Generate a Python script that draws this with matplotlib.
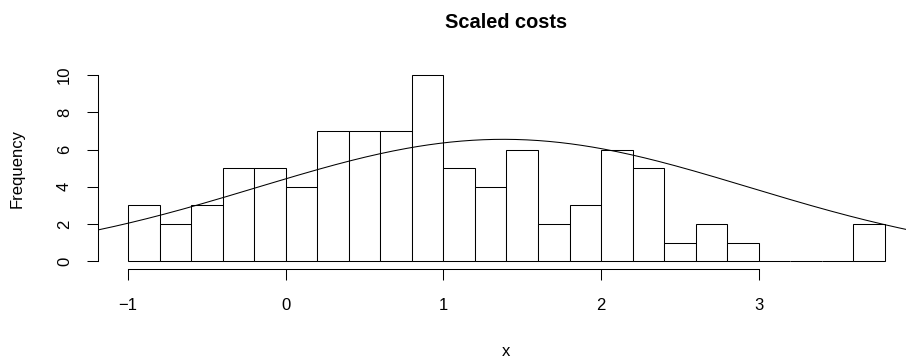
import numpy as np
import matplotlib.pyplot as plt

plt.rcParams['font.family'] = ['Liberation Sans', 'DejaVu Sans']

# histogram bins (width 0.2) and counts
bin_edges = np.round(np.arange(-1.0, 3.81, 0.2), 2)
counts = [3, 2, 3, 5, 5, 4, 7, 7, 7, 10, 5, 4, 6, 2, 3, 6, 5, 1, 2, 1, 0, 0, 0, 2]

# overlaid normal curve
curve_mean = 1.38
curve_sd = 1.56
curve_peak = 6.55

x_ticks = [-1, 0, 1, 2, 3]
x_labels = ['\u22121', '0', '1', '2', '3']
y_ticks = [0, 2, 4, 6, 8, 10]

fig = plt.figure(figsize=(9.06, 3.58), dpi=100)
ax = fig.add_axes([97.7 / 906, 1 - 268.8 / 358, 817.5 / 906, 201.2 / 358])

lw = 0.75
ax.bar(bin_edges[:-1], counts, width=0.2, align='edge', facecolor='white',
       edgecolor='black', linewidth=lw)

xmin, xmax = -1.192, 3.992
xs = np.linspace(xmin, xmax, 300)
ys = curve_peak * np.exp(-0.5 * ((xs - curve_mean) / curve_sd) ** 2)
ax.plot(xs, ys, color='black', linewidth=lw)

ax.set_xlim(xmin, xmax)
ax.set_ylim(-0.4, 10.4)

for s in ['top', 'right']:
    ax.spines[s].set_visible(False)
ax.spines['bottom'].set_bounds(-1, 3)
ax.spines['left'].set_bounds(0, 10)
ax.spines['bottom'].set_linewidth(lw)
ax.spines['left'].set_linewidth(lw)

ax.set_xticks(x_ticks)
ax.set_xticklabels(x_labels)
ax.set_yticks(y_ticks)
ax.set_yticklabels([str(v) for v in y_ticks], rotation=90, va='center')
ax.tick_params(axis='both', length=8, width=lw, labelsize=12)
ax.tick_params(axis='x', pad=13)
ax.tick_params(axis='y', pad=10.5)

fig.text(506 / 906, 1 - 28 / 358, 'Scaled costs', fontsize=14.4,
         fontweight='bold', ha='center', va='baseline')
fig.text(506 / 906, 1 - 356 / 358, 'x', fontsize=12, ha='center', va='baseline')
ax.set_ylabel('Frequency', fontsize=12, labelpad=23)

fig.savefig('out.png', dpi=100)
